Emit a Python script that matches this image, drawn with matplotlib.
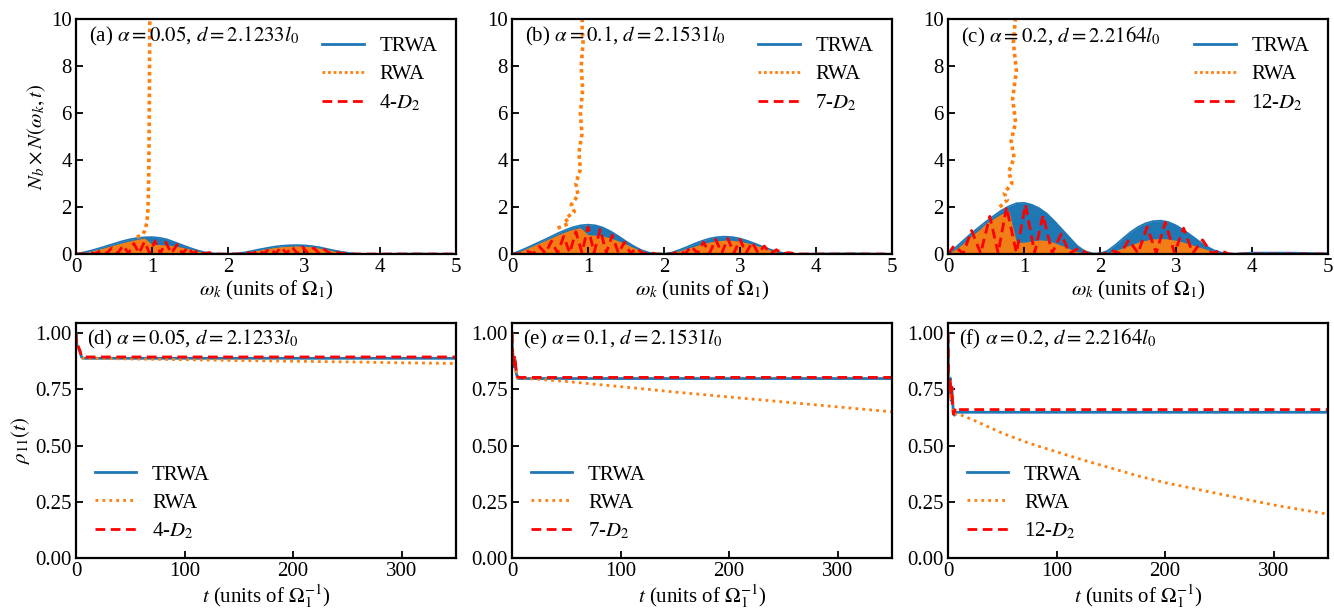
import matplotlib
matplotlib.use("Agg")
import matplotlib.pyplot as plt

plt.rcParams['font.family'] = ['Liberation Serif', 'DejaVu Serif']
plt.rcParams['mathtext.fontset'] = 'stix'

BLUE = '#1f77b4'
ORANGE = '#ff7f0e'
RED = '#ff0000'

# ---------------- top row: spectra ----------------
omega = [0.0, 0.1, 0.2, 0.3, 0.4, 0.5, 0.6, 0.7, 0.8, 0.9, 1.0, 1.1, 1.2, 1.3, 1.4,
         1.5, 1.6, 1.7, 1.8, 1.9, 2.0, 2.1, 2.2, 2.3, 2.4, 2.5, 2.6, 2.7, 2.8, 2.9,
         3.0, 3.1, 3.2, 3.3, 3.4, 3.5, 3.6, 3.7, 3.8, 3.9, 4.0, 4.5, 5.0]

trwa_a = [0.00, 0.07, 0.15, 0.24, 0.34, 0.44, 0.54, 0.62, 0.68, 0.71, 0.72, 0.69, 0.62, 0.50, 0.38,
          0.26, 0.15, 0.07, 0.03, 0.01, 0.01, 0.02, 0.06, 0.12, 0.19, 0.25, 0.31, 0.35, 0.37, 0.38,
          0.37, 0.34, 0.29, 0.22, 0.15, 0.09, 0.04, 0.01, 0.01, 0.00, 0.01, 0.02, 0.01]
rwa_a = [0.00, 0.05, 0.12, 0.20, 0.29, 0.38, 0.47, 0.55, 0.62, 0.68, 0.42, 0.40, 0.38, 0.34, 0.28,
         0.21, 0.13, 0.07, 0.03, 0.01, 0.01, 0.02, 0.05, 0.10, 0.16, 0.22, 0.27, 0.31, 0.33, 0.34,
         0.33, 0.30, 0.25, 0.19, 0.13, 0.07, 0.03, 0.01, 0.00, 0.00, 0.00, 0.00, 0.00]
spike_a_w = [0.80, 0.86, 0.90, 0.93, 0.945, 0.952, 0.958, 0.962, 0.966, 0.969, 0.972]
spike_a_y = [0.72, 0.80, 0.95, 1.30, 1.80, 2.50, 3.50, 5.00, 7.00, 9.00, 10.5]
red_w_a = [0.00, 0.11, 0.18, 0.255, 0.33, 0.40, 0.47, 0.545, 0.62, 0.69, 0.76, 0.83, 0.90, 0.97,
           1.04, 1.11, 1.18, 1.255, 1.33, 1.40, 1.47, 1.54, 1.61, 1.68, 1.75, 1.85, 2.15, 2.25,
           2.325, 2.40, 2.475, 2.55, 2.625, 2.70, 2.77, 2.84, 2.91, 2.98, 3.055, 3.13, 3.20,
           3.27, 3.345, 3.42, 3.49, 3.56, 3.65, 5.0]
red_y_a = [0.0, 0.01, 0.06, 0.01, 0.15, 0.02, 0.25, 0.02, 0.36, 0.03, 0.45, 0.03, 0.52, 0.03,
           0.55, 0.03, 0.50, 0.03, 0.40, 0.02, 0.28, 0.02, 0.16, 0.01, 0.06, 0.0, 0.0, 0.08,
           0.01, 0.16, 0.02, 0.24, 0.02, 0.29, 0.02, 0.31, 0.02, 0.30, 0.02, 0.26, 0.02,
           0.19, 0.01, 0.11, 0.01, 0.05, 0.0, 0.0]

trwa_b = [0.00, 0.13, 0.27, 0.42, 0.57, 0.72, 0.88, 1.02, 1.14, 1.22, 1.25, 1.22, 1.12, 0.96, 0.76,
          0.54, 0.34, 0.17, 0.06, 0.02, 0.01, 0.06, 0.17, 0.30, 0.44, 0.56, 0.66, 0.72, 0.74, 0.72,
          0.66, 0.56, 0.44, 0.31, 0.19, 0.09, 0.03, 0.01, 0.01, 0.01, 0.02, 0.03, 0.01]
rwa_b = [0.00, 0.11, 0.24, 0.38, 0.52, 0.66, 0.81, 0.94, 1.05, 1.12, 0.82, 0.80, 0.76, 0.68, 0.56,
         0.42, 0.27, 0.14, 0.05, 0.01, 0.01, 0.05, 0.13, 0.23, 0.33, 0.43, 0.51, 0.56, 0.59, 0.58,
         0.54, 0.47, 0.38, 0.28, 0.18, 0.09, 0.03, 0.01, 0.00, 0.00, 0.00, 0.01, 0.00]
spike_b_w = [0.60, 0.75, 0.70, 0.82, 0.78, 0.87, 0.84, 0.90, 0.88, 0.92, 0.90, 0.93, 0.91, 0.935, 0.92, 0.94]
spike_b_y = [1.1, 1.3, 1.5, 1.8, 2.1, 2.5, 3.0, 3.6, 4.3, 5.1, 6.0, 7.0, 8.0, 9.0, 9.8, 10.5]
red_w_b = [0.0, 0.12, 0.20, 0.28, 0.36, 0.44, 0.52, 0.60, 0.68, 0.76, 0.84, 0.92, 1.00, 1.08,
           1.16, 1.24, 1.32, 1.40, 1.48, 1.56, 1.64, 1.72, 1.80, 1.90, 2.10, 2.20, 2.28, 2.36,
           2.44, 2.52, 2.60, 2.68, 2.76, 2.84, 2.92, 3.00, 3.08, 3.16, 3.24, 3.32, 3.40, 3.48,
           3.56, 3.64, 3.75, 5.0]
red_y_b = [0.0, 0.01, 0.12, 0.02, 0.32, 0.03, 0.55, 0.04, 0.75, 0.05, 0.95, 0.06, 1.15, 0.06,
           1.05, 0.05, 0.80, 0.04, 0.50, 0.03, 0.25, 0.02, 0.07, 0.0, 0.0, 0.12, 0.02, 0.32,
           0.03, 0.50, 0.04, 0.62, 0.04, 0.66, 0.04, 0.62, 0.04, 0.50, 0.03, 0.34, 0.02, 0.18,
           0.01, 0.06, 0.0, 0.0]

trwa_c = [0.00, 0.28, 0.57, 0.86, 1.12, 1.38, 1.62, 1.85, 2.03, 2.16, 2.18, 2.10, 1.95, 1.72, 1.40,
          1.05, 0.70, 0.35, 0.12, 0.03, 0.02, 0.14, 0.38, 0.66, 0.93, 1.15, 1.31, 1.40, 1.42, 1.36,
          1.22, 1.02, 0.79, 0.55, 0.33, 0.16, 0.06, 0.02, 0.02, 0.04, 0.06, 0.06, 0.03]
rwa_c = [0.00, 0.20, 0.45, 0.75, 1.00, 1.30, 1.50, 1.70, 1.85, 0.50, 0.50, 0.55, 0.60, 0.58, 0.48,
         0.36, 0.22, 0.10, 0.04, 0.01, 0.01, 0.05, 0.14, 0.26, 0.38, 0.50, 0.58, 0.64, 0.66, 0.64,
         0.58, 0.50, 0.40, 0.30, 0.20, 0.10, 0.04, 0.01, 0.00, 0.00, 0.00, 0.00, 0.00]
spike_c_w = [0.68, 0.78, 0.74, 0.84, 0.80, 0.87, 0.83, 0.89, 0.85, 0.90, 0.86, 0.90]
spike_c_y = [2.0, 2.3, 2.6, 3.0, 3.5, 4.1, 4.8, 5.6, 6.6, 7.8, 9.0, 10.5]
red_w_c = [0.0, 0.08, 0.20, 0.31, 0.43, 0.55, 0.66, 0.77, 0.90, 1.02, 1.14, 1.25, 1.37, 1.49,
           1.60, 1.72, 1.85, 2.05, 2.15, 2.27, 2.38, 2.50, 2.62, 2.74, 2.86, 2.98, 3.10, 3.22,
           3.35, 3.47, 3.58, 3.70, 5.0]
red_y_c = [0.0, 0.35, 0.02, 1.00, 0.03, 1.60, 0.04, 2.00, 0.05, 2.10, 0.05, 1.65, 0.04, 0.85,
           0.03, 0.25, 0.0, 0.0, 0.15, 0.02, 0.60, 0.03, 1.15, 0.04, 1.35, 0.04, 1.10, 0.03,
           0.60, 0.02, 0.15, 0.0, 0.0]

# ---------------- bottom row: populations ----------------
t_d = [0, 0.5, 1, 1.5, 2, 2.5, 3, 3.5, 4, 5, 6, 8, 10, 50, 100, 150, 200, 250, 300, 350]
trwa_d = [1.0, 0.96, 0.94, 0.935, 0.94, 0.93, 0.925, 0.92, 0.91, 0.895, 0.889, 0.888, 0.888,
          0.888, 0.888, 0.888, 0.888, 0.888, 0.888, 0.888]
rwa_d = [1.0, 0.96, 0.94, 0.935, 0.94, 0.93, 0.925, 0.92, 0.91, 0.895, 0.889, 0.888, 0.888,
         0.885, 0.882, 0.878, 0.875, 0.872, 0.868, 0.865]
red_d = [1.0, 0.965, 0.945, 0.94, 0.945, 0.935, 0.93, 0.925, 0.915, 0.90, 0.894, 0.894, 0.894,
         0.894, 0.894, 0.894, 0.894, 0.894, 0.894, 0.894]

t_e = [0, 0.5, 1, 1.5, 2, 2.5, 3, 3.5, 4, 5, 6, 8, 10, 50, 100, 150, 200, 250, 300, 350]
trwa_e = [1.0, 0.92, 0.86, 0.85, 0.88, 0.89, 0.87, 0.84, 0.82, 0.80, 0.798, 0.798, 0.798,
          0.798, 0.798, 0.798, 0.798, 0.798, 0.798, 0.798]
rwa_e = [1.0, 0.92, 0.86, 0.85, 0.88, 0.89, 0.87, 0.84, 0.82, 0.80, 0.80, 0.80, 0.80,
         0.785, 0.762, 0.738, 0.716, 0.694, 0.672, 0.650]
red_e = [1.0, 0.93, 0.87, 0.86, 0.89, 0.90, 0.88, 0.85, 0.83, 0.81, 0.803, 0.803, 0.803,
         0.803, 0.803, 0.803, 0.803, 0.803, 0.803, 0.803]

t_f = [0, 0.5, 1, 1.5, 2, 2.5, 3, 3.5, 4, 4.5, 5, 6, 7, 8, 10, 15, 25, 50, 75, 100, 125, 150,
       175, 200, 225, 250, 275, 300, 325, 350]
trwa_f = [1.0, 0.80, 0.72, 0.78, 0.80, 0.74, 0.70, 0.76, 0.72, 0.68, 0.64, 0.635, 0.645, 0.648,
          0.648, 0.648, 0.648, 0.648, 0.648, 0.648, 0.648, 0.648, 0.648, 0.648, 0.648, 0.648,
          0.648, 0.648, 0.648, 0.648]
rwa_f = [1.0, 0.80, 0.72, 0.78, 0.80, 0.74, 0.70, 0.76, 0.72, 0.68, 0.64, 0.635, 0.64, 0.64,
         0.64, 0.63, 0.61, 0.555, 0.51, 0.472, 0.435, 0.40, 0.365, 0.335, 0.31, 0.285, 0.26,
         0.236, 0.215, 0.195]
red_f = [1.0, 0.82, 0.74, 0.80, 0.79, 0.75, 0.72, 0.76, 0.70, 0.66, 0.64, 0.65, 0.67, 0.665,
         0.66, 0.66, 0.66, 0.66, 0.66, 0.66, 0.66, 0.66, 0.66, 0.66, 0.66, 0.66, 0.66, 0.66,
         0.66, 0.66]

top_labels = [r"(a) $\alpha=0.05$, $d=2.1233l_0$",
              r"(b) $\alpha=0.1$, $d=2.1531l_0$",
              r"(c) $\alpha=0.2$, $d=2.2164l_0$"]
bot_labels = [r"(d) $\alpha=0.05$, $d=2.1233l_0$",
              r"(e) $\alpha=0.1$, $d=2.1531l_0$",
              r"(f) $\alpha=0.2$, $d=2.2164l_0$"]
d2_labels = [r"4-$D_2$", r"7-$D_2$", r"12-$D_2$"]

top_data = [(trwa_a, rwa_a, spike_a_w, spike_a_y, red_w_a, red_y_a),
            (trwa_b, rwa_b, spike_b_w, spike_b_y, red_w_b, red_y_b),
            (trwa_c, rwa_c, spike_c_w, spike_c_y, red_w_c, red_y_c)]
bot_data = [(t_d, trwa_d, rwa_d, red_d), (t_e, trwa_e, rwa_e, red_e), (t_f, trwa_f, rwa_f, red_f)]

W, H = 1334, 608
fig = plt.figure(figsize=(W / 100, H / 100), dpi=100)
lefts = [76, 512, 948]
aw = 380
top_row = (19, 254)
bot_row = (323, 558)
FS = 15


def make_ax(left, row):
    return fig.add_axes([left / W, 1 - row[1] / H, aw / W, (row[1] - row[0]) / H])


def style(ax):
    for s in ax.spines.values():
        s.set_linewidth(1.6)
    ax.tick_params(direction='in', length=5, width=1.3, labelsize=FS, pad=3)


for i in range(3):
    ax = make_ax(lefts[i], top_row)
    trwa, rwa, sw, sy, rw, ry = top_data[i]
    ax.fill_between(omega, 0, trwa, color=BLUE, linewidth=0)
    l1, = ax.plot(omega, trwa, color=BLUE, lw=1.2, label='TRWA')
    ax.fill_between(omega, 0, rwa, color=ORANGE, linewidth=0, alpha=0.95)
    l2, = ax.plot(sw, sy, color=ORANGE, lw=2.6, ls=(0, (1, 1.0)), label='RWA')
    l3, = ax.plot(rw, ry, color=RED, lw=2.0, ls=(0, (3.5, 2)), label=d2_labels[i])
    ax.set_xlim(0, 5)
    ax.set_ylim(0, 10)
    ax.set_xticks([0, 1, 2, 3, 4, 5])
    ax.set_yticks([0, 2, 4, 6, 8, 10])
    style(ax)
    ax.set_xlabel(r"$\omega_k$ (units of $\Omega_1$)", fontsize=FS, labelpad=1)
    if i == 0:
        ax.set_ylabel(r"$N_b\times N(\omega_k,t)$", fontsize=FS, labelpad=2)
    ax.text(0.035, 0.925, top_labels[i], transform=ax.transAxes, fontsize=FS,
            va='center', ha='left')
    leg = ax.legend(handles=[l1, l2, l3], loc='upper right', frameon=False, fontsize=FS,
                    handlelength=2.0, handletextpad=0.75, labelspacing=0.4,
                    borderaxespad=0.5, bbox_to_anchor=(1.0, 1.005))
    leg.legend_handles[0].set_linewidth(2.0)
    leg.legend_handles[1].set_linewidth(2.0)

for i in range(3):
    ax = make_ax(lefts[i], bot_row)
    t, trwa, rwa, red = bot_data[i]
    l1, = ax.plot(t, trwa, color=BLUE, lw=2.0, label='TRWA')
    l2, = ax.plot(t, rwa, color=ORANGE, lw=2.0, ls=(0, (1, 1.5)), label='RWA')
    l3, = ax.plot(t, red, color=RED, lw=2.0, ls=(0, (3.5, 2)), label=d2_labels[i])
    ax.set_xlim(0, 350)
    ax.set_ylim(0, 1.045)
    ax.set_xticks([0, 100, 200, 300])
    ax.set_yticks([0, 0.25, 0.5, 0.75, 1.0])
    ax.set_yticklabels(['0.00', '0.25', '0.50', '0.75', '1.00'])
    style(ax)
    ax.set_xlabel(r"$t$ (units of $\Omega_1^{-1}$)", fontsize=FS, labelpad=1)
    if i == 0:
        ax.set_ylabel(r"$\rho_{11}(t)$", fontsize=FS, labelpad=2)
    ax.text(0.03, 0.93, bot_labels[i], transform=ax.transAxes, fontsize=FS,
            va='center', ha='left')
    ax.legend(handles=[l1, l2, l3], loc='lower left', frameon=False, fontsize=FS,
              handlelength=2.0, handletextpad=0.75, labelspacing=0.4,
              bbox_to_anchor=(0.0, -0.01))

fig.savefig('out.png', dpi=100)
